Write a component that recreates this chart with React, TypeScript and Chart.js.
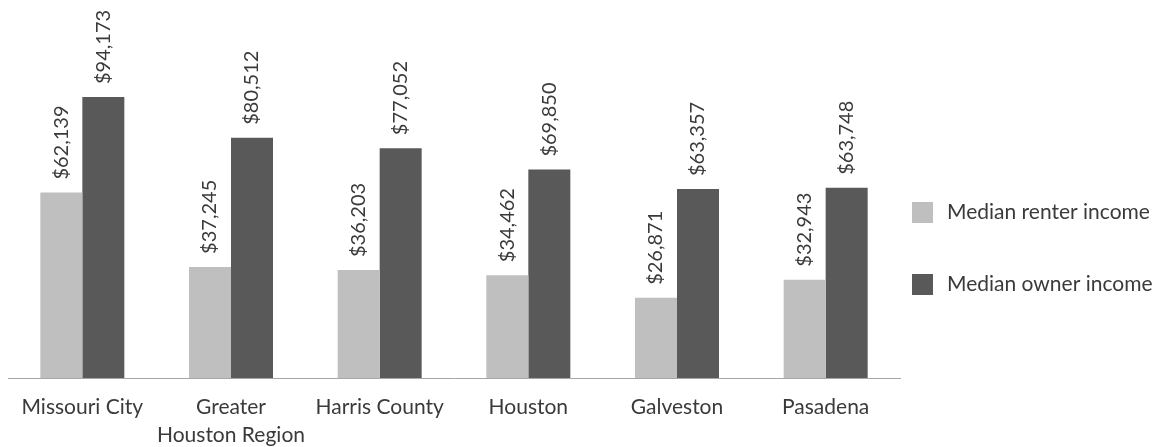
import React, { useEffect, useRef } from "react";
import { Chart, registerables } from "chart.js";

Chart.register(...registerables);

const categories: (string | string[])[] = [
  "Missouri City",
  ["Greater", "Houston Region"],
  "Harris County",
  "Houston",
  "Galveston",
  "Pasadena",
];
const seriesNames = ["Median renter income", "Median owner income"];
const renterIncome = [62139, 37245, 36203, 34462, 26871, 32943];
const ownerIncome = [94173, 80512, 77052, 69850, 63357, 63748];
const seriesColors = ["#bfbfbf", "#595959"];

const FONT_FAMILY = "Lato";
const LABEL_SIZE = 20;
const AXIS_SIZE = 21;
const TEXT_COLOR = "#3a3a3a";

const valueLabels = {
  id: "valueLabels",
  afterDatasetsDraw(chart: any) {
    const ctx = chart.ctx;
    chart.data.datasets.forEach((ds: any, i: number) => {
      const meta = chart.getDatasetMeta(i);
      meta.data.forEach((bar: any, j: number) => {
        const v = ds.data[j] as number;
        ctx.save();
        ctx.translate(bar.x, bar.y - 13);
        ctx.rotate(-Math.PI / 2);
        ctx.font = `${LABEL_SIZE}px ${FONT_FAMILY}`;
        ctx.fillStyle = TEXT_COLOR;
        ctx.textAlign = "left";
        ctx.textBaseline = "middle";
        ctx.fillText("$" + v.toLocaleString("en-US"), 0, 0);
        ctx.restore();
      });
    });
  },
};

const sideLegend = {
  id: "sideLegend",
  afterDraw(chart: any) {
    const ctx = chart.ctx;
    const area = chart.chartArea;
    const boxX = area.right + 12;
    const box = 21;
    const centers = [212.5, 284.5];
    chart.data.datasets.forEach((ds: any, i: number) => {
      const cy = centers[i];
      ctx.save();
      ctx.fillStyle = ds.backgroundColor;
      ctx.fillRect(boxX, cy - box / 2, box, box);
      ctx.font = `${AXIS_SIZE}px ${FONT_FAMILY}`;
      ctx.fillStyle = TEXT_COLOR;
      ctx.textAlign = "left";
      ctx.textBaseline = "middle";
      ctx.fillText(ds.label, boxX + box + 14, cy);
      ctx.restore();
    });
  },
};

export default function App() {
  const canvasRef = useRef<HTMLCanvasElement | null>(null);

  useEffect(() => {
    if (!canvasRef.current) return;
    const chart = new Chart(canvasRef.current, {
      type: "bar",
      data: {
        labels: categories as any,
        datasets: [
          {
            label: seriesNames[0],
            data: renterIncome,
            backgroundColor: seriesColors[0],
            categoryPercentage: 0.565,
            barPercentage: 1,
          },
          {
            label: seriesNames[1],
            data: ownerIncome,
            backgroundColor: seriesColors[1],
            categoryPercentage: 0.565,
            barPercentage: 1,
          },
        ],
      },
      options: {
        animation: false,
        responsive: true,
        maintainAspectRatio: false,
        layout: { padding: { left: 8, right: 261, top: 20, bottom: 0 } },
        plugins: {
          legend: { display: false },
          tooltip: { enabled: false },
        },
        scales: {
          y: { display: false, min: 0, max: 120000 },
          x: {
            grid: { display: false, drawTicks: false },
            border: { display: true, color: "#a6a6a6", width: 1 },
            ticks: {
              color: TEXT_COLOR,
              font: { family: FONT_FAMILY, size: AXIS_SIZE, lineHeight: 1.3 },
              padding: 16,
              maxRotation: 0,
              minRotation: 0,
              autoSkip: false,
            },
            afterFit: (scale: any) => {
              scale.height = 69;
            },
          },
        },
      },
      plugins: [valueLabels, sideLegend],
    });
    return () => chart.destroy();
  }, []);

  return (
    <div style={{ position: "absolute", left: 0, top: 0, width: 1161, height: 447, background: "#fff" }}>
      <canvas ref={canvasRef} />
    </div>
  );
}
